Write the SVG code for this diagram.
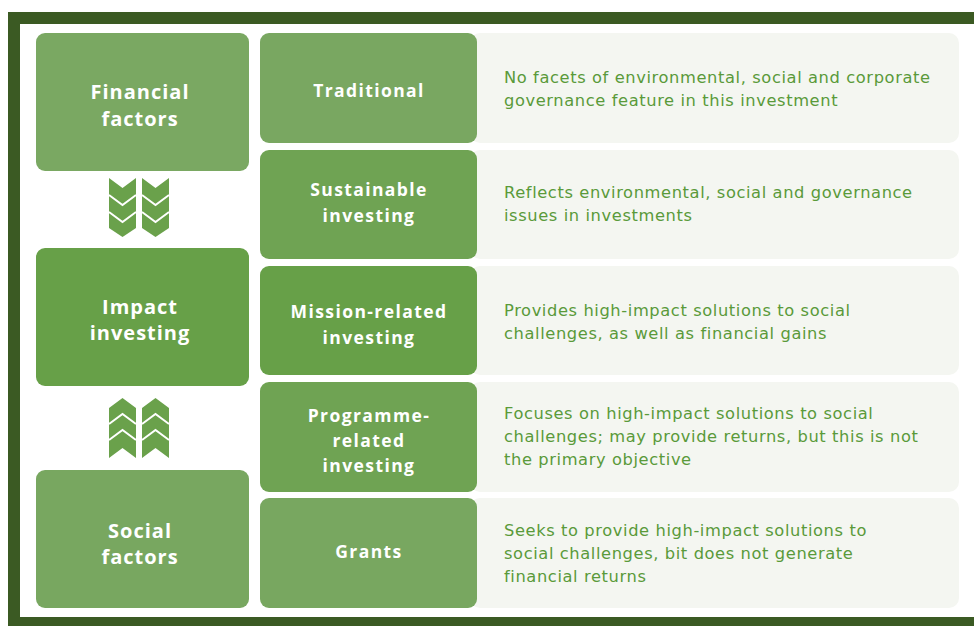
<svg xmlns="http://www.w3.org/2000/svg" width="974" height="626" viewBox="0 0 974 626">
<style>
.lt{font-family:"Open Sans","Liberation Sans",sans-serif;font-weight:700;font-size:20px;letter-spacing:1px;fill:#ffffff;text-anchor:middle}
.mt{font-family:"Open Sans","Liberation Sans",sans-serif;font-weight:700;font-size:17.5px;letter-spacing:1.4px;fill:#ffffff;text-anchor:middle}
.rt{font-family:"DejaVu Sans","Liberation Sans",sans-serif;font-size:16.3px;letter-spacing:0.6px;fill:#5a9a3a}
.desc{fill:#f4f6f1}
.sep{fill:none;stroke:#ffffff;stroke-width:2}
.chev{fill:#6aa14b}
</style>
<rect x="0" y="0" width="974" height="626" fill="#ffffff"/>
<rect x="8" y="12" width="990" height="640" fill="#3b5a23"/>
<rect x="20" y="24" width="970" height="593" fill="#ffffff"/>

<g id="desc-traditional"><rect class="desc" x="470" y="33" width="489" height="110" rx="10"/>
<text class="rt" x="504" y="83">No facets of environmental, social and corporate</text>
<text class="rt" x="504" y="106">governance feature in this investment</text></g>
<g id="desc-sustainable"><rect class="desc" x="470" y="150" width="489" height="109" rx="10"/>
<text class="rt" x="504" y="198">Reflects environmental, social and governance</text>
<text class="rt" x="504" y="221">issues in investments</text></g>
<g id="desc-mission"><rect class="desc" x="470" y="266" width="489" height="109" rx="10"/>
<text class="rt" x="504" y="316">Provides high-impact solutions to social</text>
<text class="rt" x="504" y="339">challenges, as well as financial gains</text></g>
<g id="desc-programme"><rect class="desc" x="470" y="382" width="489" height="110" rx="10"/>
<text class="rt" x="504" y="419">Focuses on high-impact solutions to social</text>
<text class="rt" x="504" y="442">challenges; may provide returns, but this is not</text>
<text class="rt" x="504" y="465">the primary objective</text></g>
<g id="desc-grants"><rect class="desc" x="470" y="498" width="489" height="110" rx="10"/>
<text class="rt" x="504" y="536">Seeks to provide high-impact solutions to</text>
<text class="rt" x="504" y="559">social challenges, bit does not generate</text>
<text class="rt" x="504" y="582">financial returns</text></g>

<g id="financial-factors"><rect x="36" y="33" width="213" height="138" rx="9" fill="#7aa862"/>
<text class="lt" x="140" y="99">Financial</text><text class="lt" x="140" y="126">factors</text></g>
<g id="impact-investing"><rect x="36" y="248" width="213" height="138" rx="9" fill="#67a048"/>
<text class="lt" x="140" y="314">Impact</text><text class="lt" x="140" y="340">investing</text></g>
<g id="social-factors"><rect x="36" y="470" width="213" height="138" rx="9" fill="#78a760"/>
<text class="lt" x="140" y="538">Social</text><text class="lt" x="140" y="564">factors</text></g>

<g id="traditional"><rect x="260" y="33" width="217" height="110" rx="9" fill="#79a761"/>
<text class="mt" x="369" y="97">Traditional</text></g>
<g id="sustainable"><rect x="260" y="150" width="217" height="109" rx="9" fill="#6fa353"/>
<text class="mt" x="369" y="196">Sustainable</text><text class="mt" x="369" y="222">investing</text></g>
<g id="mission"><rect x="260" y="266" width="217" height="109" rx="9" fill="#67a048"/>
<text class="mt" x="369" y="318">Mission-related</text><text class="mt" x="369" y="344">investing</text></g>
<g id="programme"><rect x="260" y="382" width="217" height="110" rx="9" fill="#6fa353"/>
<text class="mt" x="369" y="422">Programme-</text><text class="mt" x="369" y="447">related</text><text class="mt" x="369" y="472">investing</text></g>
<g id="grants"><rect x="260" y="498" width="217" height="110" rx="9" fill="#78a760"/>
<text class="mt" x="369" y="558">Grants</text></g>

<g id="connectors">
<g id="down-chevrons">
<polygon class="chev" points="109,178 122.5,188 136,178 136,228 122.5,237 109,228"/>
<polyline class="sep" points="109,195 122.5,205 136,195"/>
<polyline class="sep" points="109,212 122.5,222 136,212"/>
<polygon class="chev" points="142,178 155.5,188 169,178 169,228 155.5,237 142,228"/>
<polyline class="sep" points="142,195 155.5,205 169,195"/>
<polyline class="sep" points="142,212 155.5,222 169,212"/>
</g>
<g id="up-chevrons">
<polygon class="chev" points="109,408 122.5,398 136,408 136,458 122.5,448 109,458"/>
<polyline class="sep" points="109,424 122.5,414 136,424"/>
<polyline class="sep" points="109,440 122.5,430 136,440"/>
<polygon class="chev" points="142,408 155.5,398 169,408 169,458 155.5,448 142,458"/>
<polyline class="sep" points="142,424 155.5,414 169,424"/>
<polyline class="sep" points="142,440 155.5,430 169,440"/>
</g>
</g>
</svg>
